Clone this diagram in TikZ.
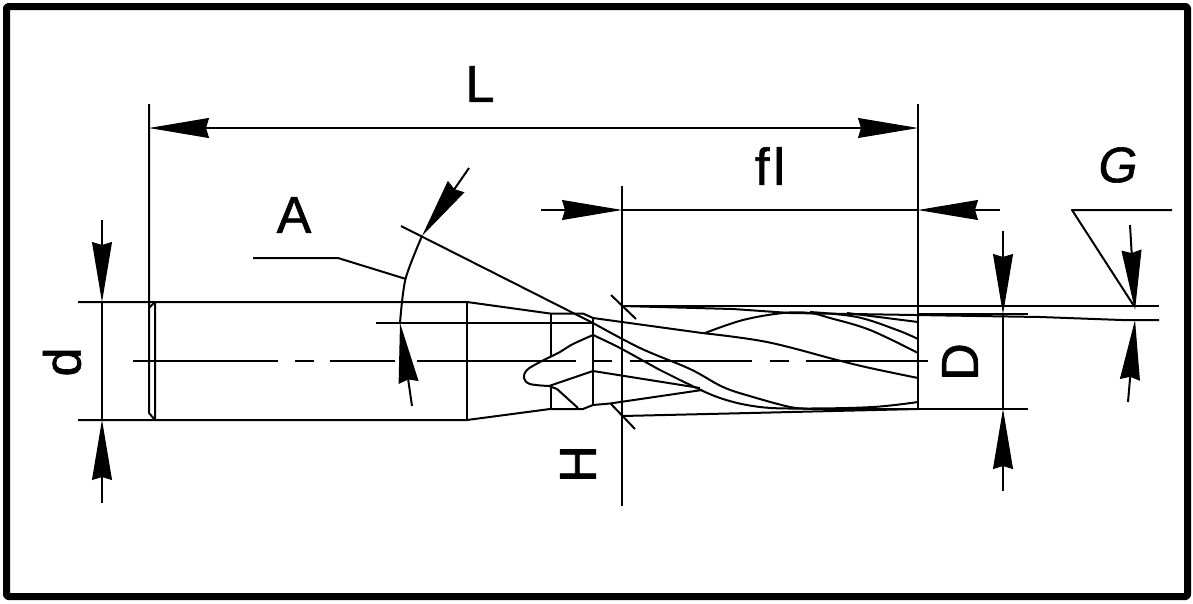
\documentclass[tikz,border=0pt]{standalone}
\usepackage{fontspec}
\setmainfont[FakeBold=1.2]{Liberation Sans}
\usetikzlibrary{arrows.meta}

\begin{document}
\begin{tikzpicture}[x=1pt,y=-1pt,>={Stealth[black,length=60pt,width=20pt,inset=3pt,line width=1pt]},
        line width=2pt,line join=round,
        every node/.style={font=\fontsize{52}{52}\selectfont,inner sep=0pt},
        frameline/.style={line width=7pt,rounded corners=2pt},
        flute/.style={smooth,tension=0.6}]
        \useasboundingbox (0,0) rectangle (1193,603);
        \draw[frameline] (6.5,6.5) rectangle (1187.5,596.5);

        \node (L) at (480,84) {L};
        \node (fl) at (770,166) {f\kern4pt l};
        \node (A) at (294,215) {A};
        \node[font=\fontsize{50}{50}\selectfont\itshape] (G) at (1118,165) {G};
        \node[rotate=90] (d) at (62,362) {d};
        \node[rotate=90] (D) at (960,362) {D};
        \node[rotate=90] (H) at (578,464) {H};

        % shank
        \draw (78,302) -- (467,302) -- (550,313.5) -- (583,313.5) -- (593,318) -- (702,333);
        \draw (78,420) -- (467,420) -- (550,409) -- (583,409) -- (593,405) -- (610,403.5) -- (702,390);
        \draw (149,104) -- (149,413) -- (155,420) -- (155,302) -- (149,308);
        \draw (467,302) -- (467,420);

        % centre line
        \draw (133,361) -- (278,361);
        \draw (295,361) -- (314,361);
        \draw (330,361) -- (395,361);
        \draw (417,361) -- (576,361);
        \draw (594,361) -- (612,361);
        \draw (630,361) -- (752,361);
        \draw (770,361) -- (789,361);
        \draw (806,361) -- (928,361);

        % point
        \draw (551,313.5) -- (551,357);
        \draw (551,385) -- (551,409);
        \draw (593,318) -- (593,405);
        \draw plot[flute] coordinates {(593,335) (571,345) (560,352) (540,362) (527,370) (524,378) (530,384) (549,386)};
        \draw (549,386) -- (593,371) -- (700,388);
        \draw (549,386) -- (557,389) -- (578,408);

        % flutes
        \draw plot[flute] coordinates {(593,335) (620,348) (660,370) (680,380) (720,398) (760,407) (807,408.5) (873,407) (918,402)};
        \draw plot[flute] coordinates {(593,323) (640,348) (690,369) (723,387) (753,397) (790,407) (807,408.5)};
        \draw plot[flute] coordinates {(702,333) (767,342) (837,360) (870,368) (918,378)};
        \draw plot[flute] coordinates {(705,333) (743,320) (783,313) (810,313) (830,318) (870,330) (918,353)};
        \draw plot[flute] coordinates {(810,312) (857,317) (897,330) (918,339)};
        \draw (847,313) -- (918,322);

        % body
        \draw (622,306) -- (1159,306);
        \draw (622,306) -- (733,309) -- (790,313) -- (1040,317) -- (1122,320) -- (1159,320);
        \draw (918,314) -- (1028,314);
        \draw (622,416) -- (750,413) -- (833,411) -- (918,409);
        \draw (807,408.5) -- (1028,408.5);
        \draw (918,104) -- (918,409);
        \draw (622,186) -- (622,506);
        \draw (611,295) -- (636,319);
        \draw (611,404) -- (635,429);

        % L
        \draw[<->] (149,128) -- (918,128);

        % fl
        \draw[->] (541,210) -- (622,210);
        \draw (622,210) -- (918,210);
        \draw[->] (1000,210) -- (918,210);

        % d
        \draw[->] (102,220) -- (102,302);
        \draw (102,302) -- (102,420);
        \draw[->] (102,503) -- (102,420);

        % D
        \draw[->] (1003,231) -- (1003,314);
        \draw (1003,314) -- (1003,409);
        \draw[->] (1003,491) -- (1003,409);

        % A
        \draw (253,258) -- (338,258) -- (406,279);
        \draw (401,226) -- (593,323);
        \draw (376,323) -- (593,323);
        \draw plot[smooth] coordinates {(422,236) (405.5,279) (400,323)};
        \draw[->] (469,168) -- (422,236);
        \draw[->] (412,406) -- (400,323);

        % G
        \draw (1172,210) -- (1072,210) -- (1134,306);
        \draw[->] (1130,225) -- (1135,310);
        \draw[->] (1128,402) -- (1135,320);
    \end{tikzpicture}
\end{document}
